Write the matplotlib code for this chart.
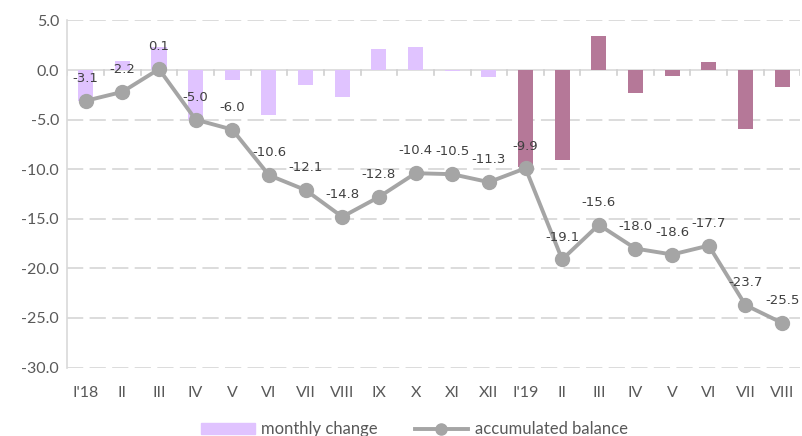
import numpy as np
import matplotlib.pyplot as plt
from matplotlib.lines import Line2D
from matplotlib.patches import Patch

months = ["I'18", 'II', 'III', 'IV', 'V', 'VI', 'VII', 'VIII', 'IX', 'X', 'XI', 'XII',
          "I'19", 'II', 'III', 'IV', 'V', 'VI', 'VII', 'VIII']
monthly_change = [-3.1, 0.9, 2.3, -5.0, -1.0, -4.5, -1.5, -2.7, 2.1, 2.3, -0.1, -0.7,
                  -9.8, -9.1, 3.4, -2.3, -0.6, 0.8, -5.9, -1.7]
accumulated = [-3.1, -2.2, 0.1, -5.0, -6.0, -10.6, -12.1, -14.8, -12.8, -10.4, -10.5, -11.3,
               -9.9, -19.1, -15.6, -18.0, -18.6, -17.7, -23.7, -25.5]
year = [2018] * 12 + [2019] * 8

c18 = '#E0C3FF'
c19 = '#B57898'
line_c = '#A5A5A5'
text_c = '#595959'

fig = plt.figure(figsize=(8.02, 4.36), dpi=100)
ax = fig.add_axes([0.084, 0.157, 0.914, 0.796])

x = np.arange(len(months))
colors = [c18 if y == 2018 else c19 for y in year]
ax.bar(x, monthly_change, width=0.41, color=colors, zorder=2)
ax.plot(x, accumulated, color=line_c, lw=2.8, marker='o', ms=10, zorder=3)

for xi, v in zip(x, accumulated):
    ax.annotate(f'{v:.1f}', (xi, v), xytext=(0, 16), textcoords='offset points',
                ha='center', va='center', fontsize=9.5, color='#404040', zorder=4)

ax.set_xlim(-0.5, len(months) - 0.5)
ax.set_ylim(-30, 5)
ax.set_yticks(np.arange(-30, 5.1, 5))
ax.set_yticklabels([f'{t:.1f}' for t in np.arange(-30, 5.1, 5)], fontsize=11.5,
                   color=text_c, family='Lato')
ax.set_xticks(x)
ax.set_xticklabels(months, fontsize=11.5, color=text_c, family='Lato')
ax.tick_params(axis='both', length=0, pad=6)
ax.tick_params(axis='x', pad=13)

for t in np.arange(-30, 5.1, 5):
    if t != 0:
        ax.axhline(t, color='#D9D9D9', lw=1.3, ls=(0, (9, 3.5)), zorder=1)
ax.axhline(0, color='#D9D9D9', lw=1.2, zorder=1)
# small tick marks on the zero line between categories
for b in np.arange(-0.5, len(months), 1):
    ax.plot([b, b], [0, -0.45], color='#D0D0D0', lw=1.2, zorder=1)

for s in ['top', 'right', 'bottom']:
    ax.spines[s].set_visible(False)
ax.spines['left'].set_color('#D9D9D9')
ax.spines['left'].set_linewidth(1.2)

handles = [Patch(color=c18, label='monthly change'),
           Line2D([], [], color=line_c, lw=2.8, marker='o', ms=8, label='accumulated balance')]
fig.legend(handles=handles, loc='center', bbox_to_anchor=(0.517, 0.015), ncol=2, frameon=False,
           prop={'family': 'Lato', 'size': 12}, labelcolor=text_c, handlelength=3.2,
           columnspacing=2.2, handletextpad=0.4)

fig.savefig('out.png', dpi=100)
